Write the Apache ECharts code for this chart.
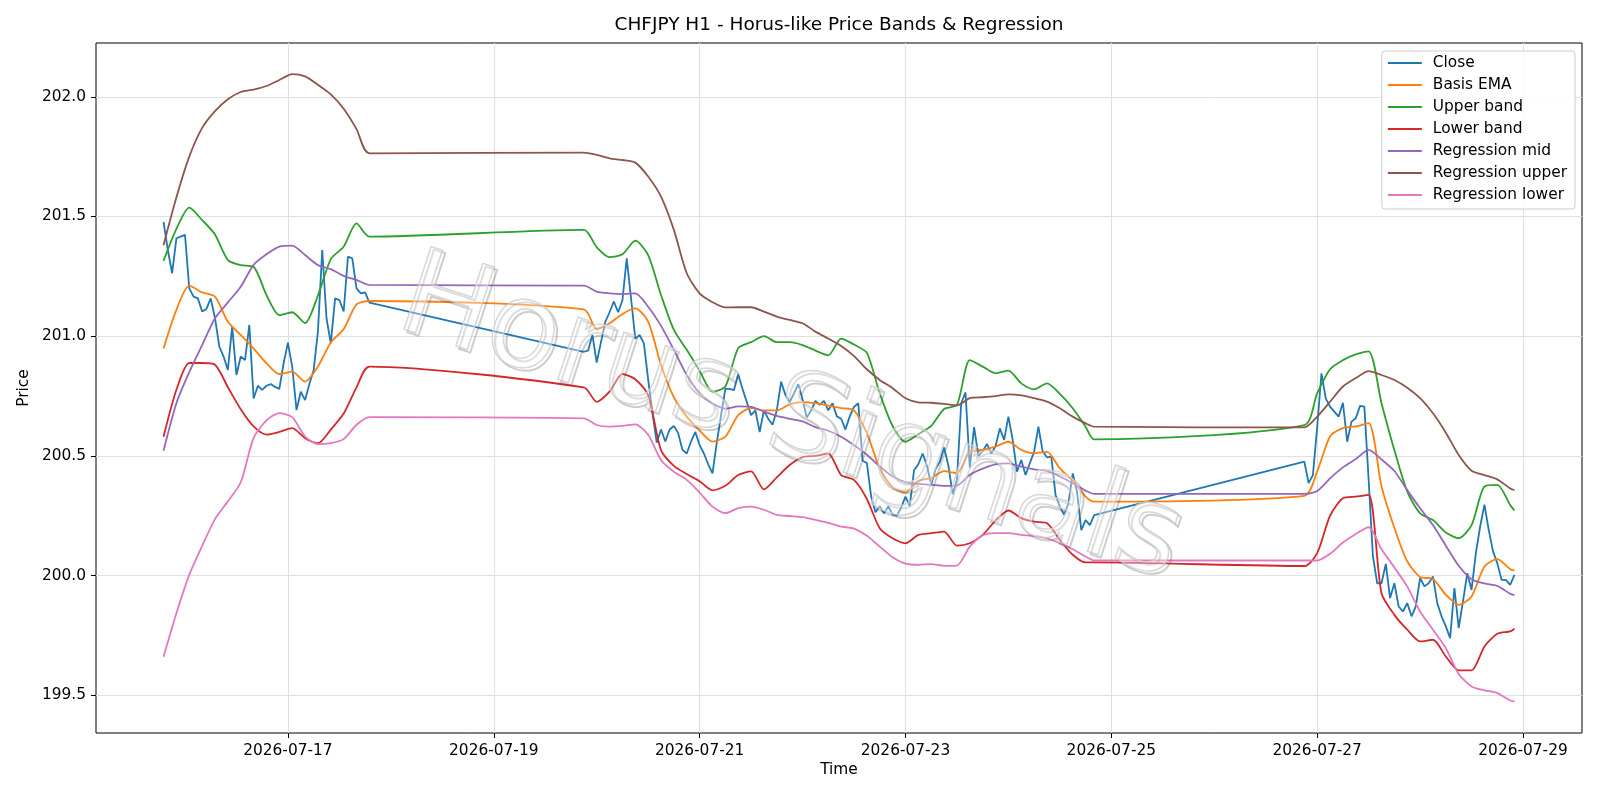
<!DOCTYPE html>
<html>
<head>
<meta charset="utf-8">
<title>CHFJPY H1</title>
<script src="https://cdn.jsdelivr.net/npm/echarts@6/dist/echarts.min.js"></script>
<style>
  html, body { margin: 0; padding: 0; background: #fff; }
  #chart { width: 1600px; height: 800px; }
</style>
</head>
<body>
<div id="chart"></div>
<script>
// hours are counted from 2026-07-17 00:00, weekends have no bars
var closeBlocks = [[-29, 19], [69, 188], [237, 286]];

var closeS1 = [201.478, 201.36, 201.263, 201.409, 201.416, 201.423, 201.20, 201.165, 201.158, 201.103,
  201.114, 201.158, 201.075, 200.957, 200.915, 200.859, 201.04, 200.838, 200.915, 200.90,
  201.047, 200.74, 200.793, 200.776, 200.793, 200.80, 200.788, 200.78, 200.887, 200.973,
  200.873, 200.692, 200.768, 200.733, 200.80, 200.858, 201.02, 201.36, 201.075, 200.97,
  201.158, 201.151, 201.103, 201.332, 201.325, 201.20, 201.179, 201.183, 201.14];
var closeS2 = [200.935, 200.94, 201.005, 200.89, 200.975, 201.06, 201.10, 201.145, 201.10, 201.15,
  201.325, 201.16, 200.99, 201.005, 200.97, 200.82, 200.68, 200.555, 200.61, 200.56,
  200.61, 200.625, 200.595, 200.525, 200.51, 200.56, 200.60, 200.545, 200.51, 200.465,
  200.427, 200.555, 200.67, 200.78, 200.78, 200.775, 200.84, 200.78, 200.725, 200.67,
  200.69, 200.60, 200.69, 200.655, 200.63, 200.69, 200.81, 200.755, 200.725, 200.76,
  200.80, 200.735, 200.66, 200.69, 200.73, 200.713, 200.73, 200.69, 200.72, 200.665,
  200.655, 200.61, 200.665, 200.705, 200.72, 200.48, 200.47, 200.33, 200.265, 200.29,
  200.26, 200.29, 200.255, 200.25, 200.285, 200.33, 200.29, 200.44, 200.465, 200.51,
  200.46, 200.38, 200.445, 200.475, 200.535, 200.46, 200.34, 200.40, 200.72, 200.765,
  200.45, 200.62, 200.50, 200.52, 200.55, 200.51, 200.54, 200.615, 200.567, 200.664,
  200.567, 200.434, 200.483, 200.42, 200.469, 200.518, 200.622, 200.518, 200.494, 200.497,
  200.336, 200.288, 200.254, 200.302, 200.427, 200.35, 200.19, 200.232, 200.211, 200.253];
var closeS3 = [200.476, 200.386, 200.42, 200.62, 200.845, 200.74, 200.706, 200.685, 200.664, 200.722,
  200.559, 200.643, 200.657, 200.709, 200.706, 200.40, 200.08, 199.968, 199.968, 200.049,
  199.906, 199.968, 199.871, 199.85, 199.885, 199.83, 199.871, 199.99, 199.955, 199.968,
  199.996, 199.885, 199.83, 199.788, 199.739, 199.948, 199.781, 199.892, 200.01, 199.94,
  200.094, 200.205, 200.296, 200.191, 200.101, 200.052, 199.982, 199.982, 199.961, 200.003];

// the smooth lines, read every 3 hours
var bandHours = [-29, -26, -23, -20, -17, -14, -11, -8, -5, -2, 1, 4, 7, 10, 13, 16, 19,
  69, 72, 75, 78, 81, 84, 87, 90, 93, 96, 99, 102, 105, 108, 111, 114, 117, 120, 123, 126,
  129, 132, 135, 138, 141, 144, 147, 150, 153, 156, 159, 162, 165, 168, 171, 174, 177, 180, 183, 186, 188,
  237, 240, 243, 246, 249, 252, 255, 258, 261, 264, 267, 270, 273, 276, 279, 282, 285, 286];

var basisEma = [200.949, 201.11, 201.211, 201.183, 201.165, 201.06, 201.005, 200.949, 200.887, 200.842, 200.852, 200.81, 200.873, 200.974, 201.03, 201.133, 201.147,
  201.112, 201.029, 201.054, 201.093, 201.116, 201.061, 200.88, 200.745, 200.664, 200.606,
  200.56, 200.58, 200.67, 200.70, 200.69, 200.69, 200.715, 200.725, 200.72, 200.71,
  200.70, 200.69, 200.595, 200.448, 200.369, 200.347, 200.396, 200.408, 200.436, 200.428,
  200.517, 200.525, 200.539, 200.559, 200.525, 200.511, 200.517, 200.448, 200.397, 200.33, 200.309,
  200.333, 200.435, 200.581, 200.616, 200.623, 200.637, 200.373, 200.199, 200.06, 199.994, 199.986, 199.92, 199.878, 199.913, 200.038, 200.069, 200.027, 200.022];
var upperBand = [201.314, 201.448, 201.537, 201.485, 201.425, 201.318, 201.297, 201.29, 201.172, 201.088, 201.10, 201.055, 201.17, 201.322, 201.374, 201.471, 201.416,
  201.444, 201.372, 201.33, 201.342, 201.399, 201.339, 201.172, 201.026, 200.943, 200.855,
  200.768, 200.79, 200.95, 200.975, 201.0, 200.975, 200.975, 200.963, 200.94, 200.92,
  200.99, 200.965, 200.93, 200.761, 200.625, 200.559, 200.591, 200.625, 200.696, 200.713,
  200.90, 200.873, 200.845, 200.856, 200.803, 200.778, 200.803, 200.759, 200.699, 200.622, 200.569,
  200.629, 200.761, 200.862, 200.9, 200.924, 200.937, 200.72, 200.524, 200.351, 200.26, 200.232, 200.18, 200.156, 200.211, 200.372, 200.379, 200.295, 200.272];
var lowerBand = [200.58, 200.776, 200.888, 200.888, 200.881, 200.787, 200.695, 200.623, 200.589, 200.60, 200.616, 200.574, 200.553, 200.61, 200.677, 200.786, 200.873,
  200.786, 200.726, 200.768, 200.842, 200.82, 200.754, 200.524, 200.458, 200.424, 200.394,
  200.356, 200.375, 200.42, 200.435, 200.36, 200.41, 200.462, 200.495, 200.5, 200.51,
  200.42, 200.40, 200.32, 200.198, 200.156, 200.135, 200.17, 200.177, 200.184, 200.125,
  200.135, 200.17, 200.23, 200.272, 200.24, 200.225, 200.219, 200.149, 200.087, 200.055, 200.055,
  200.04, 200.094, 200.25, 200.323, 200.33, 200.337, 199.926, 199.836, 199.774, 199.725, 199.732, 199.662, 199.604, 199.604, 199.704, 199.757, 199.767, 199.778];
var regMid = [200.522, 200.72, 200.85, 200.963, 201.075, 201.141, 201.207, 201.298, 201.342, 201.374, 201.378, 201.339, 201.297, 201.28, 201.252, 201.235, 201.214,
  201.211, 201.186, 201.179, 201.176, 201.179, 201.123, 201.043, 200.943, 200.838, 200.762,
  200.72, 200.697, 200.707, 200.705, 200.685, 200.667, 200.655, 200.644, 200.62, 200.605,
  200.58, 200.545, 200.505, 200.456, 200.414, 200.389, 200.383, 200.379, 200.375, 200.376,
  200.421, 200.447, 200.465, 200.469, 200.455, 200.444, 200.437, 200.414, 200.386, 200.355, 200.341,
  200.341, 200.353, 200.406, 200.452, 200.487, 200.525, 200.485, 200.437, 200.357, 200.281, 200.211, 200.125, 200.041, 199.985, 199.967, 199.957, 199.924, 199.918];
var regUpper = [201.38, 201.58, 201.75, 201.87, 201.94, 201.99, 202.02, 202.03, 202.045, 202.07, 202.095, 202.085, 202.05, 202.01, 201.95, 201.865, 201.764,
  201.767, 201.757, 201.743, 201.736, 201.725, 201.667, 201.583, 201.444, 201.263, 201.179,
  201.142, 201.12, 201.121, 201.121, 201.103, 201.082, 201.068, 201.054, 201.019, 200.99,
  200.959, 200.917, 200.862, 200.817, 200.783, 200.741, 200.724, 200.722, 200.717, 200.711,
  200.741, 200.745, 200.75, 200.757, 200.753, 200.741, 200.727, 200.699, 200.664, 200.636, 200.622,
  200.619, 200.664, 200.726, 200.79, 200.825, 200.854, 200.838, 200.817, 200.785, 200.741, 200.678, 200.597, 200.504, 200.438, 200.42, 200.402, 200.364, 200.357];
var regLower = [199.661, 199.843, 200.003, 200.124, 200.236, 200.31, 200.39, 200.575, 200.648, 200.679, 200.662, 200.581, 200.549, 200.553, 200.57, 200.63, 200.662,
  200.657, 200.629, 200.622, 200.625, 200.632, 200.588, 200.483, 200.434, 200.40, 200.347,
  200.288, 200.261, 200.282, 200.288, 200.275, 200.254, 200.249, 200.244, 200.233, 200.22,
  200.205, 200.196, 200.166, 200.121, 200.077, 200.05, 200.045, 200.048, 200.041, 200.042,
  200.121, 200.168, 200.177, 200.177, 200.17, 200.166, 200.156, 200.135, 200.11, 200.079, 200.063,
  200.063, 200.063, 200.091, 200.138, 200.174, 200.202, 200.11, 200.034, 199.954, 199.85, 199.774, 199.697, 199.589, 199.537, 199.521, 199.509, 199.478, 199.474];

var xTicks = [0, 48, 96, 144, 192, 240, 288];
var yTicks = [199.5, 200.0, 200.5, 201.0, 201.5, 202.0];

var closeHours = [];
closeBlocks.forEach(function (b) {
  for (var h = b[0]; h <= b[1]; h++) closeHours.push(h);
});
var closeVals = closeS1.concat(closeS2, closeS3);

function pairs(hours, vals) {
  return vals.map(function (v, i) { return [hours[i], v]; });
}

var t0 = Date.UTC(2026, 6, 17);
function dayLabel(h) {
  return new Date(t0 + h * 3600000).toISOString().slice(0, 10);
}

var font = 'DejaVu Sans';
var lines = [
  ['Close', '#1f77b4', closeHours, closeVals],
  ['Basis EMA', '#ff7f0e', bandHours, basisEma],
  ['Upper band', '#2ca02c', bandHours, upperBand],
  ['Lower band', '#d62728', bandHours, lowerBand],
  ['Regression mid', '#9467bd', bandHours, regMid],
  ['Regression upper', '#8c564b', bandHours, regUpper],
  ['Regression lower', '#e377c2', bandHours, regLower]
];

var wmAngle = -18 * Math.PI / 180;

var myChart = echarts.init(document.getElementById('chart'));
var option = {
  animation: false,
  backgroundColor: '#fff',
  title: {
    text: 'CHFJPY H1 - Horus-like Price Bands & Regression',
    left: 839, top: 16, textAlign: 'center', padding: 0,
    textStyle: { fontFamily: font, fontSize: 18.5, fontWeight: 'normal', color: '#000' }
  },
  grid: {
    left: 96, right: 18, top: 43, bottom: 67,
    show: true, borderColor: '#000', borderWidth: 1, backgroundColor: 'transparent'
  },
  legend: {
    orient: 'vertical', right: 25, top: 51,
    icon: 'rect', itemWidth: 34, itemHeight: 2, itemGap: 6,
    padding: [4, 8, 6, 6],
    backgroundColor: 'rgba(255,255,255,0.85)', borderColor: '#cccccc', borderWidth: 1, borderRadius: 3,
    textStyle: { fontFamily: font, fontSize: 15.4, color: '#000', lineHeight: 16, padding: [0, 0, 0, 6] },
    data: lines.map(function (l) { return l[0]; })
  },
  xAxis: {
    type: 'value', min: -44.75, max: 301.75,
    name: 'Time', nameLocation: 'middle', nameGap: 29,
    nameTextStyle: { fontFamily: font, fontSize: 15.4, color: '#000' },
    axisLine: { show: false, onZero: false },
    axisTick: { show: true, length: 5, customValues: xTicks, lineStyle: { color: '#000' } },
    axisLabel: { customValues: xTicks, margin: 10, fontFamily: font, fontSize: 15.4, color: '#000', formatter: dayLabel },
    splitLine: { show: true, lineStyle: { color: '#e0e0e0', width: 1 } }
  },
  yAxis: {
    type: 'value', min: 199.3425, max: 202.2247,
    name: 'Price', nameLocation: 'middle', nameGap: 63,
    nameTextStyle: { fontFamily: font, fontSize: 15.4, color: '#000' },
    axisLine: { show: false, onZero: false },
    axisTick: { show: true, length: 5, customValues: yTicks, lineStyle: { color: '#000' } },
    axisLabel: { customValues: yTicks, margin: 10, fontFamily: font, fontSize: 15.4, color: '#000',
      formatter: function (v) { return v.toFixed(1); } },
    splitLine: { show: true, lineStyle: { color: '#e0e0e0', width: 1 } }
  },
  graphic: [
    {
      type: 'text', x: 793, y: 425, rotation: wmAngle, z: 100, silent: true,
      style: { text: 'Horus Signals', fontFamily: font, fontSize: 119,
        align: 'center', verticalAlign: 'middle', textAlign: 'center', textVerticalAlign: 'middle',
        fill: 'rgba(0,0,0,0)', stroke: 'rgba(90,90,90,0.3)', lineWidth: 2 }
    },
    {
      type: 'text', x: 790, y: 422, rotation: wmAngle, z: 101, silent: true,
      style: { text: 'Horus Signals', fontFamily: font, fontSize: 119,
        align: 'center', verticalAlign: 'middle', textAlign: 'center', textVerticalAlign: 'middle',
        fill: 'rgba(255,255,255,0.35)', stroke: 'rgba(195,195,195,0.8)', lineWidth: 1.5 }
    }
  ],
  series: lines.map(function (l, i) {
    return {
      name: l[0], type: 'line', symbol: 'none', showSymbol: false,
      smooth: i === 0 ? false : 0.25,
      itemStyle: { color: l[1] },
      lineStyle: { color: l[1], width: 1.8 },
      data: pairs(l[2], l[3])
    };
  })
};
myChart.setOption(option);
</script>
</body>
</html>
